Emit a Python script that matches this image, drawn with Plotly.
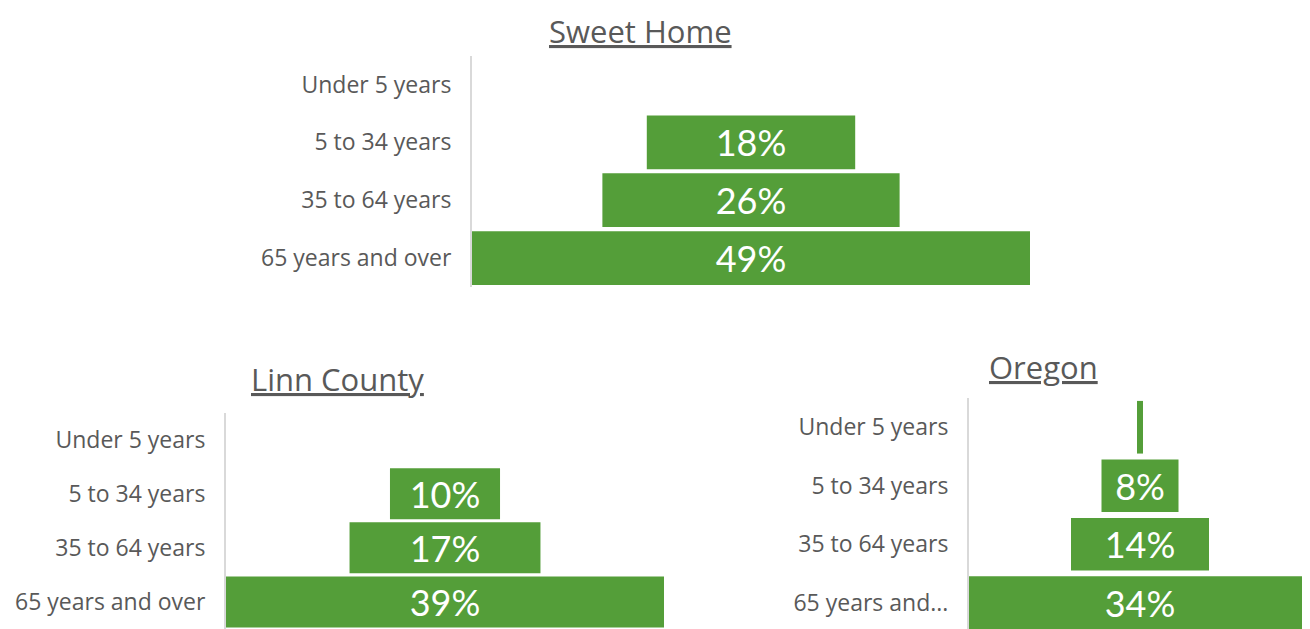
import plotly.graph_objects as go

# ---------------- data ----------------
categories = ["Under 5 years", "5 to 34 years", "35 to 64 years", "65 years and over"]
oregon_tick_labels = ["Under 5 years", "5 to 34 years", "35 to 64 years", "65 years and..."]

sweet_home_pct = [0.0, 18.3, 26.1, 49.0]
linn_county_pct = [0.0, 9.8, 17.0, 39.0]
oregon_pct = [0.6, 7.7, 13.8, 34.2]

sweet_home_labels = ["", "18%", "26%", "49%"]
linn_county_labels = ["", "10%", "17%", "39%"]
oregon_labels = ["", "8%", "14%", "34%"]

titles = ["Sweet Home", "Linn County", "Oregon"]

# ---------------- styling ----------------
W, H = 1310, 629
OFF = 8  # page body margin offset
GREEN = "#549E39"
GRAY = "#595959"
AXIS_GRAY = "#D9D9D9"
TICK_FONT = dict(family="Open Sans", size=23, color=GRAY)
BAR_FONT = dict(family="Lato", size=36, color="white")
TITLE_FONT = dict(family="Open Sans", size=31, color=GRAY)


def px_x(p):
    return (p - OFF) / W


def px_y(p):
    return 1 - (p - OFF) / H


panels = [
    dict(vals=sweet_home_pct, text=sweet_home_labels, ticks=categories,
         x=(472, 1030), y=(55.5, 287), yr=[3.5, -0.5], width=0.93, xpad=0.0,
         title_xy=(640, 8), title_anchor="top"),
    dict(vals=linn_county_pct, text=linn_county_labels, ticks=categories,
         x=(226, 664), y=(412.5, 629), yr=[3.5, -0.5], width=0.94, xpad=0.0,
         title_xy=(337, 379), title_anchor="middle"),
    dict(vals=oregon_pct, text=oregon_labels, ticks=oregon_tick_labels,
         x=(969, 1310), y=(398, 629), yr=[3.45, -0.5], width=0.9, xpad=0.1,
         title_xy=(1043, 367), title_anchor="middle"),
]

fig = go.Figure()
layout_axes = {}
annotations = []
for i, p in enumerate(panels, start=1):
    xa = "x" if i == 1 else f"x{i}"
    ya = "y" if i == 1 else f"y{i}"
    fig.add_trace(go.Funnel(
        x=p["vals"], y=categories, text=p["text"], textinfo="text",
        textposition="inside", insidetextanchor="middle", constraintext="none",
        textfont=BAR_FONT, marker=dict(color=GREEN, line=dict(width=0)),
        connector=dict(visible=False), width=p["width"],
        xaxis=xa, yaxis=ya, hoverinfo="skip", showlegend=False,
    ))
    m = max(p["vals"])
    layout_axes["xaxis" if i == 1 else f"xaxis{i}"] = dict(
        domain=[px_x(p["x"][0]), px_x(p["x"][1])],
        range=[-m / 2, m / 2 - p["xpad"]],
        visible=False, anchor=ya, fixedrange=True,
    )
    layout_axes["yaxis" if i == 1 else f"yaxis{i}"] = dict(
        domain=[px_y(p["y"][1]), px_y(p["y"][0])],
        range=p["yr"], anchor=xa, type="category",
        categoryorder="array", categoryarray=categories,
        tickvals=categories, ticktext=p["ticks"],
        showline=True, linecolor=AXIS_GRAY, linewidth=2,
        showgrid=False, zeroline=False, ticks="",
        ticklabelstandoff=14, tickfont=TICK_FONT, layer="below traces",
    )
    annotations.append(dict(
        text=f"<u>{titles[i - 1]}</u>", xref="paper", yref="paper",
        x=px_x(p["title_xy"][0]), y=px_y(p["title_xy"][1]),
        xanchor="center", yanchor=p["title_anchor"], showarrow=False,
        font=TITLE_FONT,
    ))

fig.update_layout(
    width=W, height=H, margin=dict(l=0, r=0, t=0, b=0),
    paper_bgcolor="white", plot_bgcolor="white",
    annotations=annotations, showlegend=False, **layout_axes,
)

fig.write_html("out.html")
